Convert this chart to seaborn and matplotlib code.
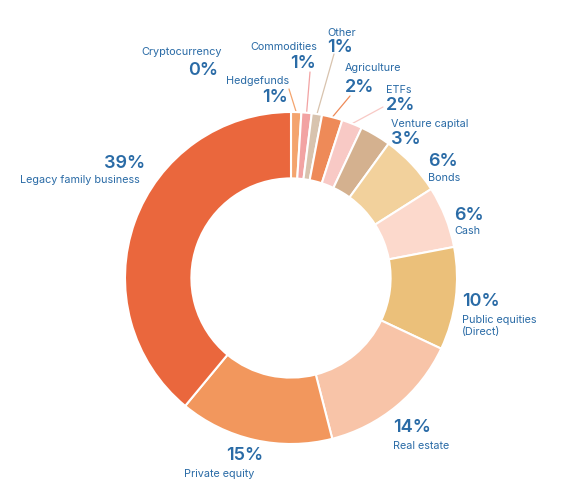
import numpy as np
import matplotlib
matplotlib.use("Agg")
import matplotlib.pyplot as plt
import seaborn as sns

# asset allocation shares, clockwise from 12 o'clock
categories = ["Cryptocurrency", "Hedgefunds", "Commodities", "Other", "Agriculture", "ETFs",
              "Venture capital", "Bonds", "Cash", "Public equities\n(Direct)", "Real estate",
              "Private equity", "Legacy family business"]
shares = [0, 1, 1, 1, 2, 2, 3, 6, 6, 10, 14, 15, 39]
pct_labels = ["0%", "1%", "1%", "1%", "2%", "2%", "3%", "6%", "6%", "10%", "14%", "15%", "39%"]

colors = sns.color_palette(["#F4A46E", "#F4A46E", "#F2A3A3", "#D8C3AE", "#EE8A58", "#F8C9C5",
                            "#D4B18F", "#F2D19C", "#FCD9CC", "#EBC07A", "#F8C4A8",
                            "#F2975D", "#EA673D"])

sns.set_theme(style="white")
plt.rcParams["font.family"] = ["Inter", "DejaVu Sans"]

W, H = 572, 502
CX, CY, R = 291, 279, 166
BLUE = "#2A6BA6"

fig = plt.figure(figsize=(W / 100, H / 100), dpi=100)
ax = fig.add_axes([0, 0, 1, 1])
wedges, _ = ax.pie(shares, colors=colors, startangle=90, counterclock=False, radius=1,
                   wedgeprops=dict(width=0.40, edgecolor="white", linewidth=1.5))
ax.set_xlim(-CX / R, (W - CX) / R)
ax.set_ylim(-(H - CY) / R, CY / R)
ax.set_aspect("equal")
ax.axis("off")


def px(x, y):
    return (x - CX) / R, (CY - y) / R


# label layout: pct (x, y), name (x, y), alignment
layout = {
    "Cryptocurrency": ((218, 70), (222, 52), "right"),
    "Hedgefunds": ((288, 97), (289, 81), "right"),
    "Commodities": ((316, 63), (317, 47), "right"),
    "Other": ((327, 47), (327, 33), "left"),
    "Agriculture": ((345, 87), (345, 68), "left"),
    "ETFs": ((386, 106), (386, 90), "left"),
    "Venture capital": ((391, 139), (391, 124), "left"),
    "Bonds": ((428, 162), (428, 178), "left"),
    "Cash": ((454, 215), (454, 231), "left"),
    "Public equities\n(Direct)": ((462, 302), (462, 326), "left"),
    "Real estate": ((393, 428), (393, 446), "left"),
    "Private equity": ((245, 456), (219, 474), "center"),
    "Legacy family business": ((145, 163), (140, 180), "right"),
}

# leader line starts for the thin top slices
leaders = {"Hedgefunds": (289, 90), "Commodities": (310, 73), "Other": (334, 55),
           "Agriculture": (350, 97), "ETFs": (383, 108)}

for name, pct, w, col in zip(categories, pct_labels, wedges, colors):
    (pxx, pxy), (lx, ly), ha = layout[name]
    ax.text(*px(pxx, pxy), pct, ha=ha, va="center", fontsize=13, fontweight="semibold", color=BLUE)
    ax.text(*px(lx, ly), name, ha=ha, va="center", fontsize=7.8, color=BLUE, linespacing=1.25)
    if name in leaders:
        mid = np.deg2rad((w.theta1 + w.theta2) / 2)
        sx, sy = px(*leaders[name])
        ax.plot([sx, np.cos(mid)], [sy, np.sin(mid)], color=col, lw=0.9, zorder=0)

fig.savefig("out.png", dpi=100, facecolor="white")
